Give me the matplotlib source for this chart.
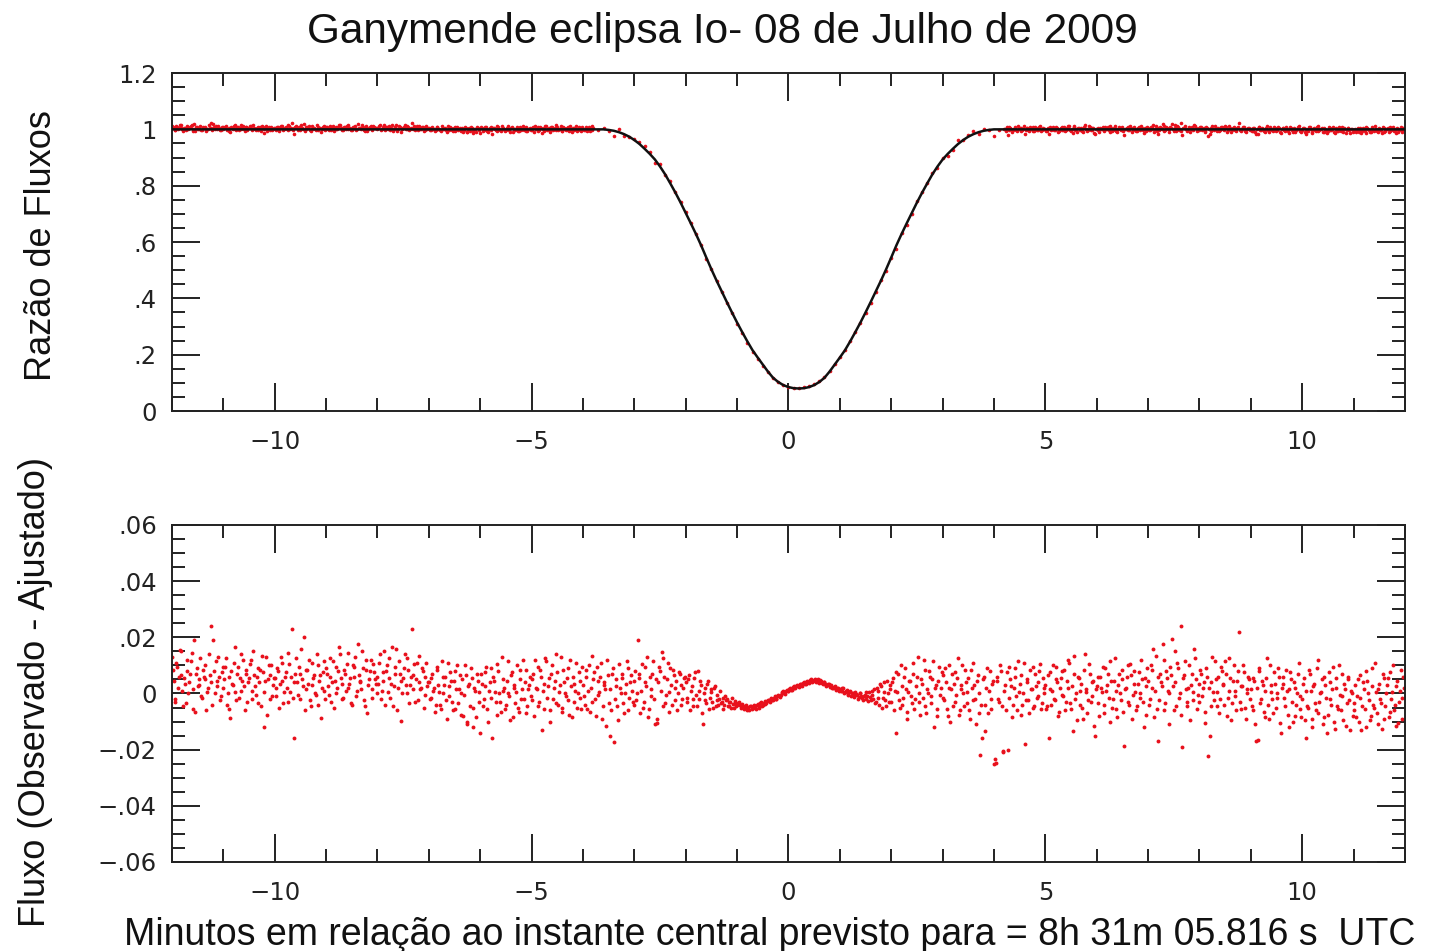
import numpy as np
import matplotlib
matplotlib.use("Agg")
import matplotlib.pyplot as plt
from matplotlib.ticker import MultipleLocator, FuncFormatter

plt.rcParams['font.family'] = ['Liberation Sans', 'DejaVu Sans']

title = "Ganymende eclipsa Io- 08 de Julho de 2009"
xlabel = "Minutos em relação ao instante central previsto para = 8h 31m 05.816 s  UTC"
ylabel_top = "Razão de Fluxos"
ylabel_bottom = "Fluxo (Observado - Ajustado)"

# one observation per second (60 per minute) starting at -12 min
t_start = -12.0
t_end = 12.0
per_minute = 60

# observed - fitted, units of 1e-4, one row per minute (-12 ... +11), even seconds
resid_even_1e4 = [
    [130, 45, -20, 95, 60, 150, 10, 55, -35, 80, 40, 115, -55, 190, 70, 25, 30, -10, 85, 50, -60, 20, 65, 240, 190, 0, 45, 130, -25, 75],
    [20, 95, -40, 60, -88, 35, 110, 5, 70, -15, 140, 45, 25, 85, -30, 55, 120, 10, 65, -5, 90, 40, -45, 75, -120, 130, 50, -20, 100, 30],
    [55, -10, 80, 35, 110, -35, 60, 20, 145, 5, 230, -157, 70, 40, 95, -20, 50, 200, 15, 85, 120, -45, 30, 65, -5, 100, 45, -88, 75, 10],
    [90, 25, 60, -30, 115, 45, 0, 80, 140, 35, -15, 70, 105, 20, 55, -40, 95, 130, 10, 65, 40, 150, -25, 85, -70, 50, 120, 15, 75, 35],
    [60, 110, -20, 45, 150, 80, 5, 125, 35, -45, 95, 160, 20, 70, -97, 55, 140, 0, 85, 30, 230, 65, -30, 110, 40, 15, 90, -50, 60, 25],
    [40, -15, 70, 20, -40, 95, 5, -55, 60, 30, -25, 110, -10, 45, -60, 80, 15, -35, 65, 0, -80, 100, -110, 25, -45, 55, -120, 10, 70, -30],
    [-140, 35, -20, 75, -55, 10, 90, -160, 45, -30, 105, 0, -65, 50, 20, -40, 115, -10, 65, -85, 30, 5, -50, 85, -20, 120, 40, -70, 15, 60],
    [-25, 70, 120, 15, -45, 85, -130, 35, 125, -15, 55, -60, 100, 20, -35, 75, 5, 130, -50, 40, -10, 90, -75, 25, 60, -30, 110, 0, 45, -55],
    [30, -40, 85, 10, -65, 135, 50, -20, 95, -5, 60, -90, 40, 15, 120, -35, -150, 70, -173, 25, -45, 105, 0, 55, -70, 35, 90, -15, 65, -30],
    [45, -25, 190, 70, 10, -50, 95, 25, -85, 60, -10, 115, -110, -105, 40, 80, 147, 125, -35, 50, 5, 90, -40, 65, 20, -60, 75, 30, -20, 55],
    [40, -30, 65, 10, -45, 55, -5, 80, -20, 30, -110, 20, -35, 45, -15, 5, -50, 25, -25, -40, 10, -30, -55, -10, -20, -45, -30, -15, -50, -35],
    [-40, -30, -45, -38, -55, -42, -48, -60, -45, -52, -40, -55, -38, -45, -30, -40, -28, -35, -22, -30, -15, -25, -10, -18, -5, -12, 0, 8, -3, 12],
    [10, 18, 12, 25, 20, 30, 22, 35, 28, 40, 33, 45, 38, 50, 42, 48, 40, 52, 38, 45, 32, 40, 28, 35, 22, 30, 18, 25, 12, 20],
    [15, 8, 20, 5, 12, -2, 10, 0, -8, 5, -5, -12, 2, -15, -8, -20, -10, 5, -25, -5, 15, -30, 10, -40, 25, -15, 40, -45, 0, 30],
    [-30, 55, 10, -140, 70, -50, 25, -15, 90, -65, 5, 45, -35, 110, -20, 60, 0, -75, 35, 120, -45, 15, 80, -10, 50, -120, 30, -55, 95, 20],
    [65, -25, 40, -80, 100, 15, -45, 75, -5, 125, -60, 30, 0, 85, -35, 55, -90, 20, 110, -20, 45, -70, -220, -160, 60, -40, 90, 10, -55, 35],
    [-250, -248, 45, -30, 80, -205, 10, -60, -200, 95, 25, -40, 60, -10, 115, 35, -75, 0, -180, 50, -25, 85, 15, -50, 70, -15, 40, 105, -35, 20],
    [30, -45, -160, 75, 10, -20, 95, 40, -65, 55, -5, 85, -30, 20, 110, -55, -135, 135, 0, 60, -40, 35, -90, 140, 15, -25, 70, -10, 45, -150],
    [25, -35, 60, 5, -70, 90, 30, -15, 115, -50, 45, 10, -85, 70, -25, 50, -188, 20, 100, -40, 65, -5, 80, -60, 35, 0, 120, -30, 55, -75],
    [45, -20, 85, 160, 10, -55, -170, 70, 25, 120, -35, 55, 0, 95, 195, -60, 40, 110, -15, 242, -192, 65, 15, -45, 100, 30, -25, 160, 50, -5],
    [-30, 70, 20, -65, 90, -224, -150, 40, 5, 115, -45, 60, -20, 80, 30, 115, -80, 10, 55, -35, 100, -10, 45, 220, -55, 25, 75, -90, 0, 50],
    [15, -60, 45, -170, -165, 80, -20, 30, -85, 55, -40, 100, 5, -70, 35, -15, 90, -105, 20, 60, -45, 10, -120, 75, -30, 40, -80, 0, 110, -55],
    [-20, 55, -160, -45, 85, 10, -90, 35, -60, 120, -30, 5, -110, 60, -15, -75, 40, -40, 95, -125, 20, -55, -5, 70, -95, 15, -35, 50, -130, 0],
    [-60, 30, -10, -100, 65, -45, 15, -120, 45, -25, -80, 90, -50, 5, -110, 35, -35, 70, -90, 0, 55, -65, -20, 100, -40, 25, -105, 10, -15, 60],
]

# same, odd seconds
resid_odd_1e4 = [
    [85, -30, 110, 20, 155, 65, -45, 35, 120, 0, 70, 145, 15, -65, 90, 50, 125, -15, 60, 100, 5, 140, 40, -40, 80, 115, 25, 60, -10, 95],
    [50, 125, 0, -55, 80, 30, 165, -25, 95, 55, 10, 120, -60, 70, 40, 105, -20, 150, 25, 60, -35, 85, 135, 5, 45, -75, 100, 65, -10, 55],
    [20, 90, -50, 130, 45, 5, 75, -30, 105, 60, -15, 40, 125, -5, 70, 160, 25, -60, 85, 35, -25, 110, 55, 0, 140, -40, 65, 20, 115, -20],
    [70, -5, 125, 40, -50, 95, 20, 165, 55, -20, 85, 10, 145, 35, -35, 100, 60, -10, 175, 45, 15, 90, -45, 120, 30, 80, -15, 105, 50, 0],
    [35, 140, 10, 75, -40, 100, 55, -15, 165, 25, 70, -60, 115, 45, 0, 90, 30, 125, -35, 60, 15, 105, 50, -25, 135, 20, 80, -5, 110, 40],
    [-20, 55, 10, -65, 85, 30, -40, 115, 0, 60, -90, 25, 75, -30, 45, -55, 100, 15, -75, 50, -5, 65, -100, 35, 90, -50, 20, -85, 45, 5],
    [70, -45, 25, 95, -100, 40, -15, 60, 5, -75, 80, -30, 130, 10, -55, 45, 0, -95, 75, 20, -35, 100, -65, 50, 15, -20, 85, -45, 30, -10],
    [50, -80, 20, 95, -30, 60, 10, -55, 115, 25, -100, 70, -20, 45, 140, -40, 30, -65, 85, 0, 55, -25, 120, -85, 35, 10, -50, 75, -15, 95],
    [-10, 60, -55, 100, 20, -30, 75, -80, 45, 5, 110, -45, 30, -115, 65, 15, -60, 90, -20, 50, -95, 20, 70, -35, 0, 115, -60, 40, 10, -40],
    [80, 0, 55, -70, 105, -30, 40, 130, -55, 15, 70, -20, 50, -90, 95, 10, -45, 60, -5, 110, -65, 30, 85, -25, 45, 0, 70, -40, 20, 60],
    [-15, 50, -60, 25, -20, 75, -45, 10, 45, -70, 0, -25, 35, -55, 15, -30, 20, -45, -5, -20, -35, -15, -40, -25, -45, -30, -50, -38, -28, -45],
    [-35, -42, -50, -45, -48, -58, -52, -45, -55, -47, -48, -42, -50, -35, -43, -33, -38, -28, -25, -20, -22, -15, -20, -8, -10, -5, 5, 2, 10, 8],
    [15, 12, 22, 18, 28, 25, 30, 32, 38, 35, 42, 40, 48, 44, 46, 52, 45, 42, 48, 36, 40, 35, 30, 32, 25, 20, 24, 15, 18, 10],
    [10, 18, 2, 8, -5, 6, -10, 3, -12, -3, -18, 0, -10, -22, -5, 5, -28, -12, 8, -20, -35, 20, -15, 35, -50, 5, -25, 45, -30, 15],
    [40, -60, 75, 5, -25, 100, -40, 60, 15, -90, 45, -10, 70, -55, 25, 130, -30, 50, -15, 85, -70, 0, 60, -35, 115, 20, -80, 45, -5, 75],
    [-15, 90, -55, 20, -100, 70, 35, -30, 55, -75, 15, 100, -45, 40, 5, -60, 85, -25, 30, -110, 65, 0, -40, 50, -135, 20, -70, 80, -20, 45],
    [-235, 60, -20, 100, -45, -210, 30, 75, -15, 50, -85, 20, 90, -60, 5, 65, -40, 110, -25, 40, -70, 15, 95, -45, 25, -10, 80, -55, 55, 0],
    [-55, 65, 15, -40, 100, -25, 50, -80, 20, 80, -10, -60, 45, 120, -35, 25, 70, -20, -95, 55, 10, -50, 85, 5, -70, 105, -30, 40, -115, 15],
    [60, -80, 20, 95, -40, 10, 70, -100, 45, -20, 125, -55, 30, 0, 85, -65, 15, 60, -30, 105, -90, 35, 5, -45, 75, -15, 50, -120, 25, 90],
    [-40, 100, 20, -85, 135, 60, -25, 40, 175, -60, 80, 10, -110, 65, 25, 150, -45, 90, 0, -75, 55, 115, -30, 20, -95, 70, 5, 125, -55, 35],
    [85, -10, 40, -105, 60, 20, -45, 130, -25, 50, 5, -70, 95, 35, -40, 70, -15, 125, -95, 45, 10, -60, 80, -30, 25, 100, -50, 15, 60, -20],
    [-45, 55, -110, 20, 90, -35, 45, -65, 10, 125, -90, 30, -20, 75, -50, 0, 60, -140, 35, -15, 85, -75, 15, 50, -100, 20, -40, 70, -10, -85],
    [35, -95, 10, -50, 70, -120, 25, -35, 90, -70, 0, 50, -85, 30, -140, 75, -20, 15, -100, 55, -45, 100, -60, -10, 35, -115, 60, -25, 10, -80],
    [-35, -85, 50, -15, -130, 40, -55, 80, 0, -95, 25, -40, 110, -70, 15, -20, -125, 55, -45, 30, -85, 75, 5, -60, -115, 45, -30, 85, -90, 20],
]

# fitted light curve, every 0.1 min from -3.8 to +4.2 (flat at baseline outside)
baseline = 1.0
fit_t0 = -3.8
fit_step = 0.1
fit_v = [
    1.000, 1.000, 1.000, 0.998, 0.995, 0.990, 0.983, 0.974, 0.962, 0.948,
    0.931, 0.913, 0.893, 0.868, 0.840, 0.808, 0.775, 0.740, 0.703, 0.666,
    0.628, 0.588, 0.545, 0.503, 0.463, 0.425, 0.387, 0.350, 0.314, 0.280,
    0.247, 0.216, 0.190, 0.165, 0.140, 0.118, 0.103, 0.092, 0.085, 0.081,
    0.080,
    0.081, 0.085, 0.092, 0.103, 0.118, 0.140, 0.165, 0.190, 0.216, 0.247,
    0.280, 0.314, 0.350, 0.387, 0.425, 0.463, 0.503, 0.545, 0.588, 0.628,
    0.666, 0.703, 0.740, 0.775, 0.808, 0.840, 0.868, 0.893, 0.913, 0.931,
    0.948, 0.962, 0.974, 0.983, 0.990, 0.995, 0.998, 1.000, 1.000, 1.000,
]

# interleave even/odd seconds into one 1 s series
resid = np.column_stack([np.ravel(resid_even_1e4), np.ravel(resid_odd_1e4)]).ravel() / 1e4
k = np.arange(resid.size)
t = t_start + k / per_minute

fit_v = np.array(fit_v)
fit_t = fit_t0 + fit_step * np.arange(fit_v.size)
k_fit = np.round((fit_t - t_start) * per_minute).astype(int)

# observed ratio = fit + residual
outside = (k < k_fit[0]) | (k > k_fit[-1])
obs_t = np.concatenate([t[outside], t[k_fit]])
obs_v = np.concatenate([baseline + resid[outside], fit_v + resid[k_fit]])

line_t = np.concatenate([[t_start], fit_t, [t_end]])
line_v = np.concatenate([[baseline], fit_v, [baseline]])


def strip_zero(v, pos):
    if abs(v) < 1e-9:
        return "0"
    s = f"{abs(v):.2f}".rstrip("0").rstrip(".")
    if s.startswith("0"):
        s = s[1:]
    return ("\u2212" if v < 0 else "") + s


def style_axes(ax, ymajor, yminor):
    ax.set_xlim(t_start, t_end)
    ax.xaxis.set_major_locator(MultipleLocator(5))
    ax.xaxis.set_minor_locator(MultipleLocator(1))
    ax.yaxis.set_major_locator(MultipleLocator(ymajor))
    ax.yaxis.set_minor_locator(MultipleLocator(yminor))
    ax.yaxis.set_major_formatter(FuncFormatter(strip_zero))
    ax.tick_params(which="both", direction="in", top=True, right=True,
                   width=1.4, colors="#222222", labelsize=17.5)
    ax.tick_params(which="major", length=20)
    ax.tick_params(which="minor", length=9.5)
    ax.tick_params(axis="x", which="major", pad=14)
    ax.tick_params(axis="y", which="major", pad=11)
    for lab in ax.get_xticklabels() + ax.get_yticklabels():
        lab.set_family(["DejaVu Sans"])
    for sp in ax.spines.values():
        sp.set_linewidth(1.4)
        sp.set_color("#222222")


fig = plt.figure(figsize=(14.31, 9.51), dpi=100)
ax1 = fig.add_axes([0.1202, 0.5678, 0.8616, 0.3554])
ax2 = fig.add_axes([0.1202, 0.0936, 0.8616, 0.3544])

red = "#e8101c"

ax1.plot(obs_t, obs_v, "o", ms=2.6, color=red, mew=0, zorder=2)
ax1.plot(line_t, line_v, "-", color="#111111", lw=1.8, zorder=3)
ax1.set_ylim(0, 1.2)
style_axes(ax1, 0.2, 0.05)

ax2.plot(t, resid, "o", ms=2.8, color=red, mew=0)
ax2.set_ylim(-0.06, 0.06)
style_axes(ax2, 0.02, 0.005)

fig.text(0.505, 0.966, title, ha="center", va="center", fontsize=30.5, color="#111111")
fig.text(0.029, 0.742, ylabel_top, rotation=90, ha="center", va="center", fontsize=26, color="#111111")
fig.text(0.0245, 0.272, ylabel_bottom, rotation=90, ha="center", va="center", fontsize=26, color="#111111")
fig.text(0.538, 0.017, xlabel, ha="center", va="center", fontsize=27, color="#111111")

fig.savefig("out.png", dpi=100)
